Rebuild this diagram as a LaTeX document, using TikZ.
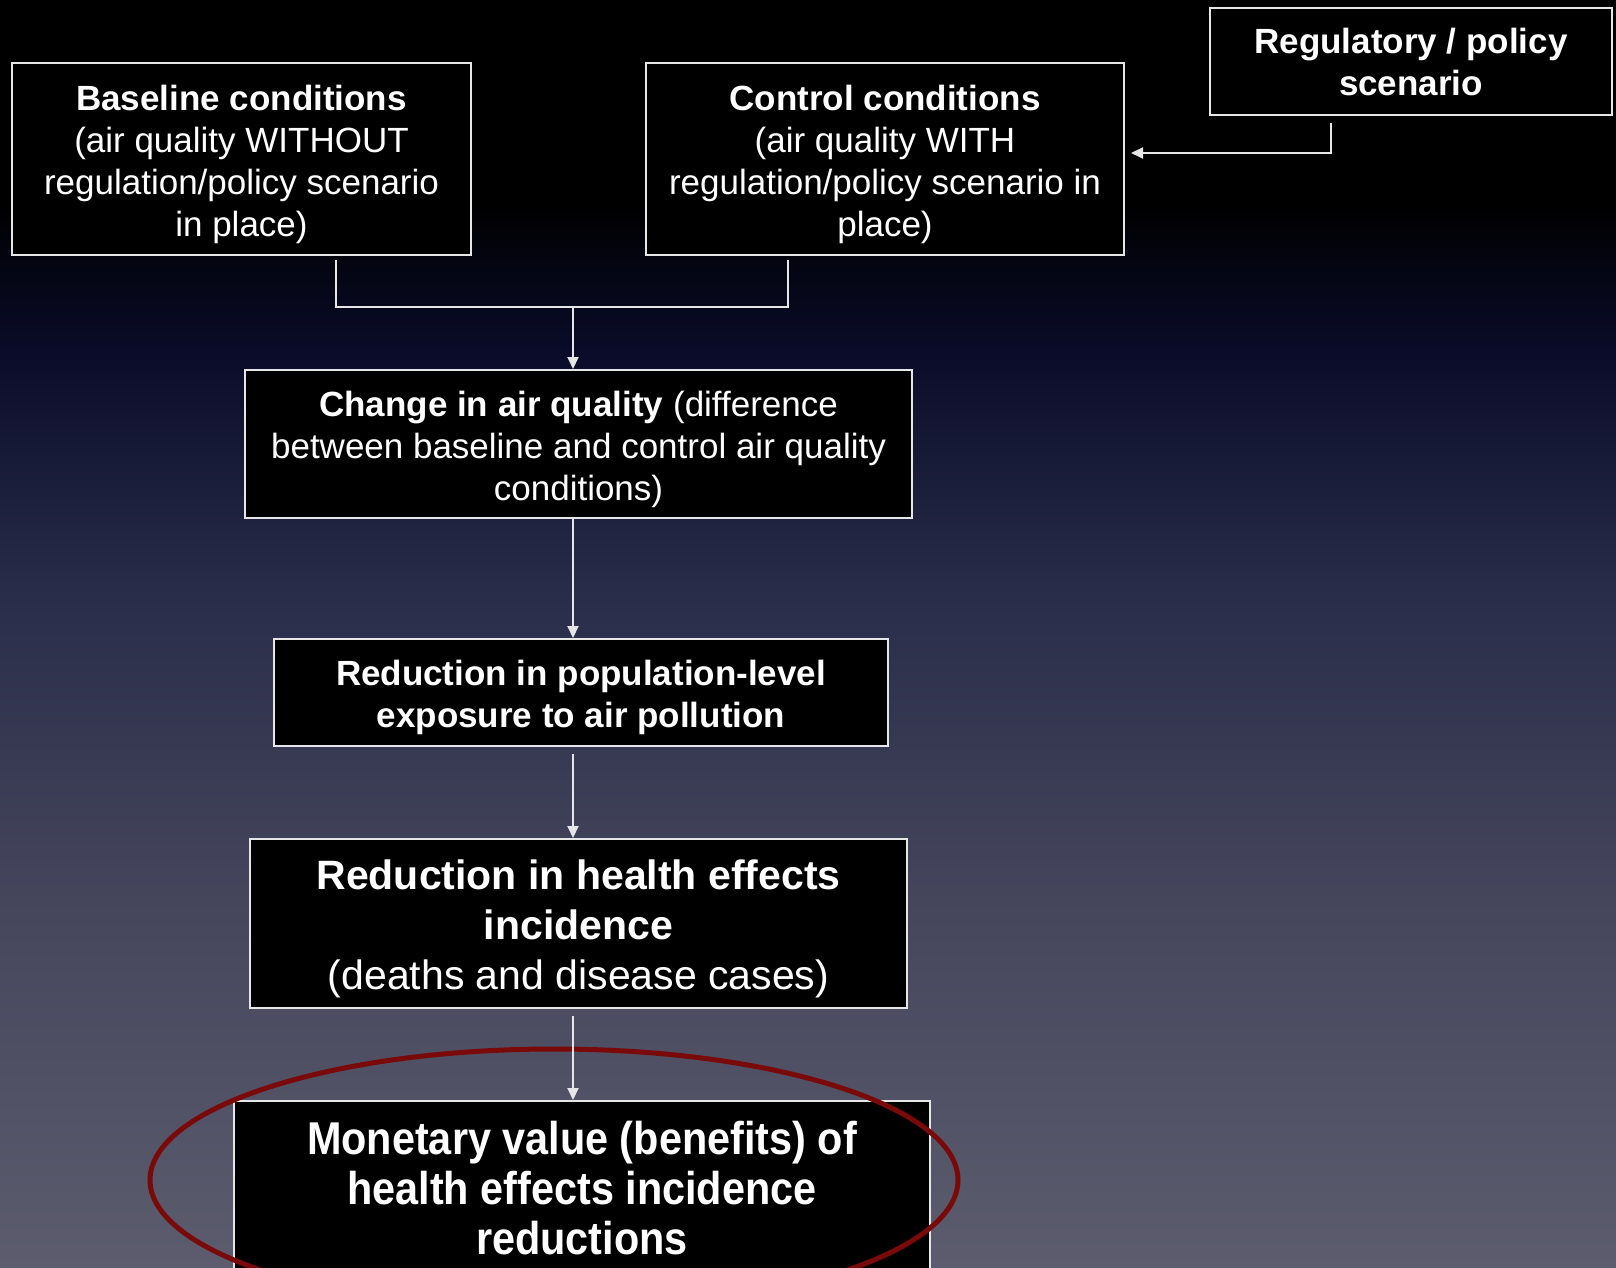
\documentclass[tikz,border=0pt]{standalone}
\usepackage{fontspec}
\setmainfont{Liberation Sans}
\newfontfamily\narrowfont[FakeStretch=0.9]{Liberation Sans}
\usetikzlibrary{arrows.meta}

\definecolor{bgbot}{HTML}{5C5C6E}
\definecolor{bglow}{HTML}{45465C}
\definecolor{bgmid}{HTML}{2A2D4A}
\definecolor{bgnavy}{HTML}{0A0C2A}
\definecolor{bgtop}{HTML}{000000}
\definecolor{ringred}{HTML}{7A0A0A}
\definecolor{linegray}{HTML}{E6E6E6}

\pgfdeclareverticalshading{slidebg}{100bp}{color(0bp)=(bgbot); color(25bp)=(bgbot); color(39.5bp)=(bglow);
  color(51.5bp)=(bgmid); color(61bp)=(bgnavy); color(67bp)=(bgtop); color(100bp)=(bgtop)}

% extra room above the first line
\newcommand\lift[1]{\rule{0pt}{#1}}

\begin{document}
\begin{tikzpicture}[x=1pt,y=-1pt,
    box/.style={draw=linegray,line width=2pt,fill=black,text=white,align=center,
      inner sep=0pt,font=\fontsize{35}{42}\selectfont},
    link/.style={draw=linegray,line width=2pt},
    arrow/.style={link,-{Triangle[length=12pt,width=11pt]}}]

  \clip (0,0) rectangle (1616,1268);
  \shade[shading=slidebg] (0,0) rectangle (1616,1268);

  \node[box,minimum width=459,minimum height=192] (base) at (241.5,159)
    {\lift{36pt}\textbf{Baseline conditions}\\(air quality WITHOUT\\regulation/policy scenario\\in place)};
  \node[box,minimum width=478,minimum height=192] (ctrl) at (885,159)
    {\lift{36pt}\textbf{Control conditions}\\(air quality WITH\\regulation/policy scenario in\\place)};
  \node[box,minimum width=402,minimum height=107,font=\fontsize{35}{42}\selectfont\bfseries] (reg) at (1411,61.5)
    {Regulatory / policy\\scenario};

  \node[box,minimum width=667,minimum height=148] (change) at (578.5,444)
    {\lift{36pt}\textbf{Change in air quality} (difference\\between baseline and control air quality\\conditions)};
  \node[box,minimum width=614,minimum height=107,font=\fontsize{35}{42}\selectfont\bfseries] (expo) at (581,692.5)
    {\lift{36pt}Reduction in population-level\\exposure to air pollution};
  \node[box,minimum width=657,minimum height=169,font=\fontsize{41}{50}\selectfont] (health) at (578.5,923.5)
    {\lift{40pt}\textbf{Reduction in health effects}\\\textbf{incidence}\\(deaths and disease cases)};
  \node[box,minimum width=696,minimum height=174,font=\fontsize{46}{50}\selectfont\narrowfont\bfseries] (money) at (582,1188)
    {Monetary value (benefits) of\\health effects incidence\\reductions};

  % highlight
  \draw[ringred,line width=5pt] (554,1180) ellipse[x radius=404, y radius=131];

  % connectors
  \coordinate (join) at (573,307);
  \draw[link] ([xshift=94.5,yshift=-4]base.south) |- (join) -| ([xshift=-97,yshift=-4]ctrl.south);
  \draw[arrow] (join) -- (join |- change.north);
  \draw[arrow] ([xshift=-80,yshift=-7]reg.south) |- ([xshift=6,yshift=6]ctrl.east);
  \draw[arrow] (change.south -| join) -- (expo.north -| join);
  \draw[arrow] ([yshift=-7]expo.south -| join) -- (health.north -| join);
  \draw[arrow] ([yshift=-7]health.south -| join) -- (money.north -| join);

\end{tikzpicture}
\end{document}
